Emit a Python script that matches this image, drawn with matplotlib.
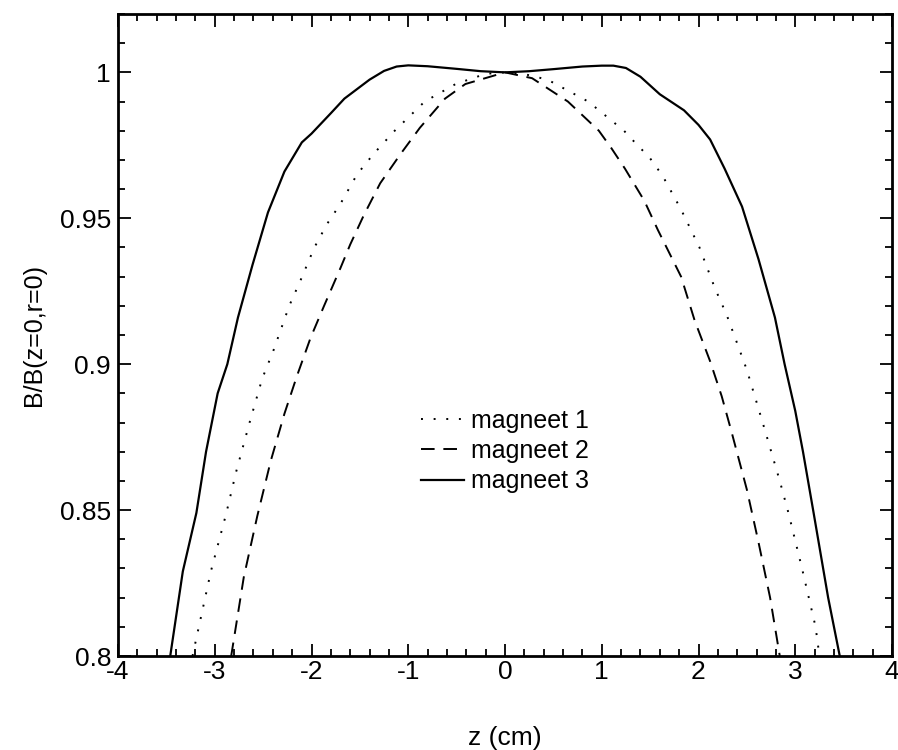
import matplotlib
matplotlib.use("Agg")
import matplotlib.pyplot as plt
from matplotlib.ticker import MultipleLocator

plt.rcParams['font.family'] = ['Liberation Sans', 'DejaVu Sans']

# magneet 1 (dotted)
z1 = [-3.23, -3.04, -2.88, -2.78, -2.64, -2.51, -2.39, -2.23, -2.11, -1.97, -1.84, -1.70,
      -1.53, -1.36, -1.14, -0.83, -0.51, -0.20, 0.0, 0.20, 0.44, 0.86, 1.23, 1.37, 1.49,
      1.63, 1.82, 2.01, 2.17, 2.29, 2.39, 2.50, 2.60, 2.69, 2.84, 2.93, 3.07, 3.21, 3.25]
b1 = [0.800, 0.829, 0.849, 0.863, 0.880, 0.895, 0.905, 0.920, 0.929, 0.940, 0.948, 0.955,
      0.965, 0.972, 0.980, 0.990, 0.996, 0.9995, 1.000, 0.9994, 0.9975, 0.990, 0.980, 0.975, 0.971,
      0.9645, 0.953, 0.940, 0.926, 0.917, 0.908, 0.898, 0.887, 0.877, 0.860, 0.849, 0.830, 0.810, 0.800]

# magneet 2 (dashed)
z2 = [-2.83, -2.70, -2.56, -2.42, -2.28, -2.15, -2.01, -1.87, -1.70, -1.60, -1.46, -1.29,
      -1.08, -0.88, -0.62, -0.41, 0.0, 0.28, 0.65, 0.97, 1.10, 1.24, 1.44, 1.58, 1.82,
      1.96, 2.12, 2.24, 2.34, 2.50, 2.62, 2.74, 2.84]
b2 = [0.800, 0.827, 0.848, 0.867, 0.883, 0.896, 0.909, 0.920, 0.933, 0.941, 0.951, 0.962,
      0.972, 0.981, 0.991, 0.996, 1.000, 0.998, 0.990, 0.980, 0.974, 0.967, 0.956, 0.946, 0.930,
      0.915, 0.901, 0.889, 0.877, 0.857, 0.839, 0.820, 0.800]

# magneet 3 (solid)
z3 = [-3.46, -3.33, -3.19, -3.09, -2.97, -2.87, -2.76, -2.61, -2.45, -2.28, -2.10, -2.00,
      -1.80, -1.66, -1.40, -1.25, -1.12, -1.00, -0.80, -0.50, -0.25, 0.0, 0.25, 0.50, 0.80,
      1.00, 1.12, 1.25, 1.40, 1.60, 1.85, 2.00, 2.12, 2.27, 2.45, 2.62, 2.79, 2.89, 3.00,
      3.08, 3.19, 3.34, 3.46]
b3 = [0.800, 0.829, 0.849, 0.870, 0.890, 0.900, 0.916, 0.934, 0.952, 0.966, 0.976, 0.979,
      0.986, 0.991, 0.9975, 1.0005, 1.0020, 1.0024, 1.0021, 1.0012, 1.0004, 1.000, 1.0004, 1.0011, 1.0020,
      1.0023, 1.0023, 1.0015, 0.9985, 0.9925, 0.987, 0.982, 0.977, 0.967, 0.954, 0.936, 0.916, 0.900, 0.884,
      0.870, 0.849, 0.820, 0.800]

labels = ['magneet 1', 'magneet 2', 'magneet 3']
xticks = [-4, -3, -2, -1, 0, 1, 2, 3, 4]
yticks = [0.8, 0.85, 0.9, 0.95, 1.0]
yticklabels = ['0.8', '0.85', '0.9', '0.95', '1']

fig = plt.figure(figsize=(8.98, 7.5), dpi=100)
ax = fig.add_axes([118 / 898, 1 - 656 / 750, 774 / 898, 642 / 750])

ax.plot(z1, b1, color='black', lw=1.4, linestyle=(0, (1, 5.5)), label=labels[0])
ax.plot(z2, b2, color='black', lw=1.4, linestyle=(0, (7, 4.5)), label=labels[1])
ax.plot(z3, b3, color='black', lw=1.6, linestyle='-', label=labels[2])

ax.set_xlim(-4, 4)
ax.set_ylim(0.8, 1.02)
ax.set_xticks(xticks)
ax.set_xticklabels([str(v) for v in xticks])
ax.xaxis.set_minor_locator(MultipleLocator(0.2))
ax.set_yticks(yticks)
ax.set_yticklabels(yticklabels)
ax.yaxis.set_minor_locator(MultipleLocator(0.01))
ax.tick_params(which='both', direction='in', top=True, right=True, labelsize=19, width=1.3)
ax.tick_params(which='major', length=9)
ax.tick_params(which='minor', length=5)
ax.tick_params(axis='x', pad=3)
ax.tick_params(axis='y', pad=5)
for s in ax.spines.values():
    s.set_linewidth(2)

ax.set_xlabel('z (cm)', fontsize=19, labelpad=30)
ax.set_ylabel('B/B(z=0,r=0)', fontsize=18, labelpad=10)

leg = ax.legend(loc='center', bbox_to_anchor=(0.5, 0.319), frameon=False, fontsize=18,
                handlelength=1.7, handletextpad=0.3, labelspacing=0.25)

fig.savefig('out.png', dpi=100)
